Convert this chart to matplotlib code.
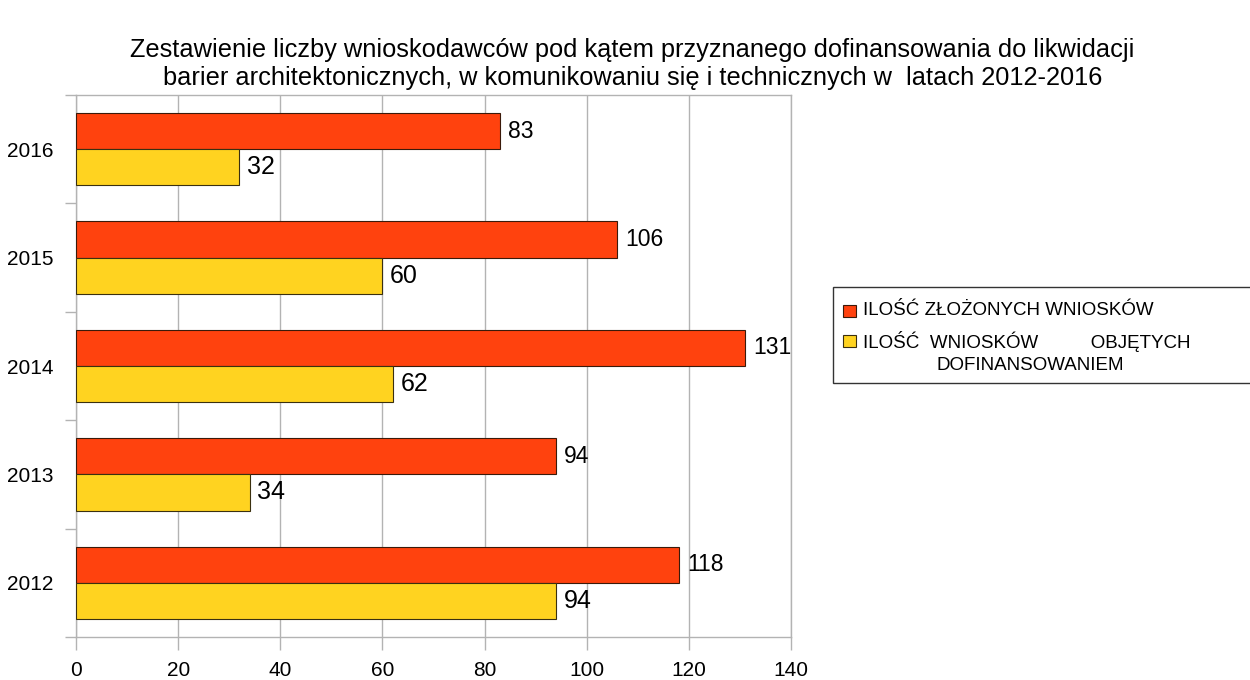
import matplotlib.pyplot as plt
from matplotlib.patches import Rectangle

years = ["2012", "2013", "2014", "2015", "2016"]
zlozone = [118, 94, 131, 106, 83]
objete = [94, 34, 62, 60, 32]

label_zlozone = "ILOŚĆ ZŁOŻONYCH WNIOSKÓW"
label_objete = "ILOŚĆ  WNIOSKÓW          OBJĘTYCH"
label_objete2 = "DOFINANSOWANIEM"

red = "#ff420e"
yellow = "#ffd320"
grid = "#b3b3b3"

plt.rcParams["font.family"] = ["Liberation Sans", "DejaVu Sans"]

fig = plt.figure(figsize=(12.5, 6.8), dpi=100)
ax = fig.add_axes([0.0608, 0.0632, 0.572, 0.7971])

h = 1 / 3
pos = list(range(len(years)))
ax.barh([p + h / 2 for p in pos], zlozone, height=h, color=red,
        edgecolor="#3a1a0a", linewidth=0.8, zorder=3)
ax.barh([p - h / 2 for p in pos], objete, height=h, color=yellow,
        edgecolor="#3a3010", linewidth=0.8, zorder=3)

for p, v in zip(pos, zlozone):
    ax.text(v + 1.6, p + h / 2, str(v), va="center", ha="left", fontsize=16.5)
for p, v in zip(pos, objete):
    ax.text(v + 1.5, p - h / 2, str(v), va="center", ha="left", fontsize=18)

ax.set_xlim(0, 140)
ax.set_ylim(-0.5, len(years) - 0.5)
ax.set_xticks(range(0, 141, 20))
ax.set_yticks(pos)
ax.set_yticklabels(years)
ax.set_yticks([p - 0.5 for p in range(len(years) + 1)], minor=True)
ax.tick_params(axis="y", which="major", length=0, pad=16, labelsize=15)
ax.tick_params(axis="y", which="minor", length=8, color=grid, width=1)
ax.tick_params(axis="x", length=9, color=grid, width=1, labelsize=15, pad=8)
ax.xaxis.grid(True, color=grid, linewidth=1, zorder=0)
for s in ax.spines.values():
    s.set_color(grid)
    s.set_linewidth(1)

fig.text(0.506, 0.906,
         "Zestawienie liczby wnioskodawców pod kątem przyznanego dofinansowania do likwidacji\n"
         "barier architektonicznych, w komunikowaniu się i technicznych w  latach 2012-2016",
         ha="center", va="center", fontsize=18.3, linespacing=1.25)

# legend drawn by hand so its box runs off the right edge like the original
W, H = 1250, 680
fig.patches.append(Rectangle((833 / W, 1 - 383 / H), 430 / W, 96 / H,
                             transform=fig.transFigure, facecolor="white",
                             edgecolor="#333333", linewidth=1))
fig.patches.append(Rectangle((843 / W, 1 - 317 / H), 13 / W, 12 / H,
                             transform=fig.transFigure, facecolor=red,
                             edgecolor="#3a1a0a", linewidth=0.8))
fig.patches.append(Rectangle((843 / W, 1 - 347 / H), 13 / W, 12 / H,
                             transform=fig.transFigure, facecolor=yellow,
                             edgecolor="#3a3010", linewidth=0.8))
fig.text(863 / W, 1 - 311 / H, label_zlozone, va="center", ha="left", fontsize=13.5)
fig.text(863 / W, 1 - 341 / H, label_objete, va="center", ha="left", fontsize=13.5)
fig.text(936 / W, 1 - 366 / H, label_objete2, va="center", ha="left", fontsize=13.5)

fig.savefig("out.png", dpi=100)
